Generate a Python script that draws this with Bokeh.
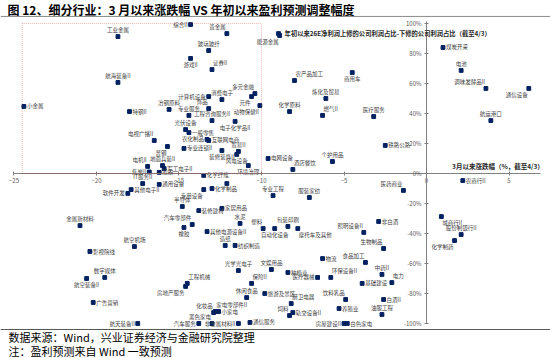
from bokeh.plotting import figure
from bokeh.models import (ColumnDataSource, LinearAxis, FixedTicker, PrintfTickFormatter,
                          Label, Span, BoxAnnotation, Range1d)
from bokeh.embed import file_html
from bokeh.resources import INLINE
from bokeh.core.properties import value

# ---------------- data ----------------
industries = [
    "工业金属", "综合II", "贵金属", "玻璃玻纤", "游戏II", "证券II", "航海装备II", "小金属", "特钢II", "冶钢原料",
    "计算机设备", "消费电子", "多元金融", "元件", "饰品", "动物保健II", "专业服务", "工程咨询服务II", "电子化学品II", "光伏设备",
    "一般零售", "农化制品", "互联网电商", "电视广播II", "普钢", "专业连锁II", "贸易II", "装修装饰II", "风电设备", "地面兵装II",
    "电机II", "军工电子II", "焦炭II", "船舶", "环境治理", "电网设备", "酒店餐饮", "个护用品", "IT服务II", "通用设备",
    "其他电子II", "软件开发", "金属新材料", "航空机场", "影视院线", "数字媒体", "航空装备II", "广告营销", "航天装备II", "化学纤维",
    "", "化学制品", "专用设备", "专业工程", "服装家纺", "半导体", "装修建材", "家居用品", "汽车零部件", "水泥",
    "橡胶", "其他电源设备II", "塑料", "自动化设备", "包装印刷", "摩托车及其他", "造纸", "纺织制造", "物流", "光学光电子",
    "文娱用品", "种植业", "医疗器械", "环保设备II", "工程机械", "房地产服务", "保险II", "休闲食品", "旅游及景区", "厨卫电器",
    "饮料乳品", "养殖业", "饲料", "轨交设备II", "化妆品", "家电零部件II", "小家电", "汽车服务", "黑色家电", "非金属材料II",
    "通信服务", "房屋建设II", "白色家电", "食品加工", "中药II", "电力", "基础建设", "白酒II", "油服工程", "医药商业",
    "农商行II", "非白酒", "照明设备II", "城商行II", "股份制银行II", "化学制药", "生物制品", "商用车", "医疗服务", "铁路公路",
    "电池", "调味发酵品II", "通信设备", "航运港口", "煤炭开采", "农产品加工", "炼化及贸易", "化学原料", "燃气II", "能源金属",
]
# 3月以来涨跌幅 (%)
change_since_march = [
    -18.7, -14.3, -12.1, -13.2, -14.3, -13.0, -18.7, -24.4, -18.0, -15.6,
    -13.2, -12.4, -10.4, -10.6, -13.2, -10.1, -14.4, -13.0, -11.6, -14.6,
    -14.4, -13.3, -13.2, -16.5, -15.7, -14.7, -11.4, -12.4, -11.5, -16.0,
    -16.9, -15.9, -16.8, -16.2, -10.8, -9.6, -8.1, -5.7, -17.2, -16.2,
    -17.9, -18.1, -21.0, -17.7, -20.4, -19.5, -20.6, -20.2, -17.5, -13.5,
    -12.1, -13.0, -13.5, -9.3, -7.1, -14.8, -13.8, -12.4, -14.2, -11.3,
    -14.7, -13.3, -9.9, -9.2, -8.4, -7.8, -12.2, -11.6, -6.3, -11.4,
    -9.4, -8.4, -6.6, -5.8, -14.5, -14.6, -10.6, -10.9, -9.8, -8.2,
    -4.9, -5.3, -8.3, -8.1, -12.9, -12.8, -12.6, -13.8, -13.0, -11.4,
    -10.7, -5.0, -4.8, -3.7, -2.7, -2.1, -3.9, -2.6, -2.7, -1.4,
    2.2, -2.9, -3.8, 0.9, 2.1, 1.7, -2.6, -4.5, -3.2, -2.5,
    2.1, 3.6, 6.2, 3.9, 1.0, -8.0, -6.1, -8.3, -6.3, -8.9,
]
# 年初以来26E净利润上修占比-下修占比 (%)
profit_revision = [
    91.3, 99.3, 93.3, 82.0, 76.7, 69.3, 60.7, 44.7, 41.3, 42.7,
    51.3, 49.3, 53.3, 51.3, 43.3, 45.3, 38.7, 35.3, 34.7, 29.3,
    27.3, 22.7, 22.0, 22.0, 18.0, 16.7, 14.7, 15.3, 12.7, 5.3,
    4.7, 3.3, 1.0, 0.7, 5.3, 10.0, 2.7, 8.0, -6.7, -7.3,
    -10.7, -13.3, -34.7, -48.7, -52.0, -69.3, -70.0, -86.0, -100.0, -1.3,
    -6.7, -10.0, -10.7, -14.7, -16.0, -22.0, -24.7, -23.3, -34.0, -33.3,
    -36.0, -38.7, -36.7, -36.7, -35.3, -36.7, -48.0, -48.0, -56.7, -64.7,
    -64.0, -66.0, -69.3, -69.3, -73.3, -75.3, -73.3, -82.7, -80.0, -86.7,
    -84.0, -90.0, -94.7, -92.7, -92.7, -92.0, -92.0, -100.0, -100.0, -100.0,
    -99.3, -100.0, -100.0, -59.3, -67.3, -72.7, -73.3, -84.0, -94.0, -11.3,
    -4.7, -32.0, -39.3, -28.7, -40.7, -44.7, -50.0, 67.3, 38.0, 18.7,
    68.7, 56.7, 56.7, 35.3, 84.0, 62.0, 50.0, 41.3, 38.7, 92.0,
]
x_ticks = [-25, -20, -15, -10, -5, 0, 5]
y_ticks = [-100, -80, -60, -40, -20, 0, 20, 40, 60, 80, 100]
highlight_x = [-24.5, -10]
highlight_y = [0, 100]

# label placement (style only)
label_side = [
    "t", "l", "tl", "t", "b", "tr", "t", "r", "r", "t",
    "l", "t", "tl", "bl", "tl", "bl", "t", "t", "b", "t",
    "r", "l", "r", "tl", "bl", "r", "t", "b", "b", "t",
    "tl", "r", "l", "r", "b", "r", "tr", "t", "t", "r",
    "r", "l", "t", "t", "r", "t", "b", "r", "l", "r",
    "r", "r", "bl", "t", "t", "t", "r", "r", "tl", "t",
    "b", "r", "tl", "b", "t", "br", "t", "r", "r", "t",
    "t", "r", "l", "tr", "tr", "bl", "tr", "t", "r", "tr",
    "tl", "r", "tl", "r", "tl", "tr", "r", "l", "tl", "l",
    "r", "l", "r", "tl", "t", "tr", "r", "r", "t", "tl",
    "r", "r", "tl", "br", "t", "bl", "tl", "b", "t", "r",
    "t", "tl", "bl", "t", "r", "tr", "t", "t", "tr", "bl",
]
OFF = {
    "r": (3, 0, "left", "middle"), "l": (-3, 0, "right", "middle"),
    "t": (0, -2.5, "center", "bottom"), "b": (0, 2.5, "center", "top"),
    "tl": (-1, -2.5, "right", "bottom"), "tr": (1, -2.5, "left", "bottom"),
    "bl": (-1, 2.5, "right", "top"), "br": (1, 2.5, "left", "top"),
}

src = ColumnDataSource(dict(
    x=change_since_march, y=profit_revision, name=industries,
    xo=[OFF[s][0] for s in label_side], yo=[OFF[s][1] for s in label_side],
    al=[OFF[s][2] for s in label_side], bl=[OFF[s][3] for s in label_side],
))

FONT = "Noto Sans CJK SC"
GREY = "#595959"

# frame covers the whole canvas: 16.5 px per x-unit, 1.5 px per y-unit
p = figure(width=550, height=358,
           x_range=Range1d(-25.818, 7.515), y_range=Range1d(-123.33, 115.33),
           x_axis_type=None, y_axis_type=None,
           output_backend="svg", toolbar_location=None,
           min_border_left=0, min_border_right=0, min_border_top=0, min_border_bottom=0)
p.outline_line_color = None
p.background_fill_color = "white"
p.border_fill_color = "white"

# axes crossing at origin
xaxis = LinearAxis(fixed_location=0, ticker=FixedTicker(ticks=x_ticks), bounds=(-25, 6.9))
yaxis = LinearAxis(fixed_location=0, ticker=FixedTicker(ticks=y_ticks), bounds=(-100, 101.5),
                   formatter=PrintfTickFormatter(format="%d%%"))
for ax in (xaxis, yaxis):
    ax.axis_line_color = "#808080"
    ax.major_tick_line_color = "#808080"
    ax.major_tick_in = 2
    ax.major_tick_out = 2
    ax.minor_tick_line_color = None
    ax.major_label_text_font_size = "6px"
    ax.major_label_text_color = GREY
    ax.major_label_text_font = FONT
    ax.major_label_standoff = 3
p.add_layout(xaxis, "below")
p.add_layout(yaxis, "left")

# red dotted highlight box
p.add_layout(BoxAnnotation(left=highlight_x[0], right=highlight_x[1],
                           bottom=highlight_y[0], top=highlight_y[1],
                           fill_color=None, line_color="#c00000", line_width=1, line_dash="1 1"))

# points and labels
p.scatter("x", "y", source=src, marker="square", size=3.8, color="#002060")
p.text("x", "y", text="name", source=src, x_offset="xo", y_offset="yo",
       text_align="al", text_baseline="bl", text_font_size="5.5px",
       text_color="#404040", text_font=value(FONT))

# legend (series name)
leg_src = ColumnDataSource(dict(x=[-8.97], y=[93.3]))
p.scatter("x", "y", source=leg_src, marker="square", size=3.8, color="#002060")
p.add_layout(Label(x=-8.6, y=93.3, text="年初以来26E净利润上修的公司利润占比-下修的公司利润占比（截至4/3）",
                   text_font_size="6.3px", text_font=FONT, text_font_style="bold",
                   text_color="#262626", text_baseline="middle"))
# x-axis title
p.add_layout(Label(x=1.55, y=4.7, text="3月以来涨跌幅（%，截至4/3）",
                   text_font_size="6.5px", text_font=FONT, text_font_style="bold",
                   text_color="#262626", text_baseline="middle"))

# rules under title and above notes
p.add_layout(Span(location=104.7, dimension="width", line_color="#8c8c8c", line_width=1))
p.add_layout(Span(location=-104.0, dimension="width", line_color="#595959", line_width=1))

# title and notes
p.add_layout(Label(x=-25.39, y=109.3, text="图 12、细分行业：3 月以来涨跌幅 VS 年初以来盈利预测调整幅度",
                   text_font_size="12px", text_font=FONT, text_font_style="bold",
                   text_color="black", text_baseline="middle"))
p.add_layout(Label(x=-25.33, y=-108.7, text="数据来源：Wind，兴业证券经济与金融研究院整理",
                   text_font_size="11px", text_font=FONT, text_color="black", text_baseline="middle"))
p.add_layout(Label(x=-25.33, y=-118.0, text="注：盈利预测来自 Wind 一致预测",
                   text_font_size="11px", text_font=FONT, text_color="black", text_baseline="middle"))

open("out.html", "w").write(file_html(p, INLINE))
